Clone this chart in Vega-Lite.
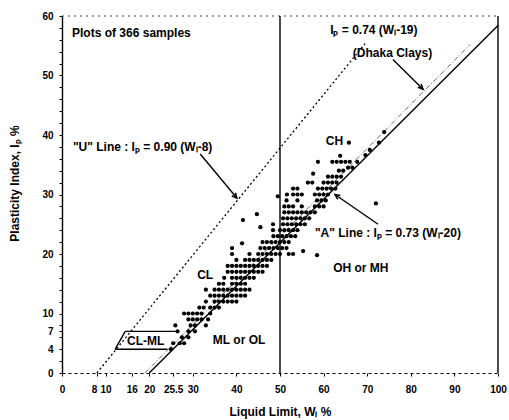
{
  "$schema": "https://vega.github.io/schema/vega-lite/v6.json",
  "width": 436,
  "height": 357,
  "autosize": {"type": "none"},
  "padding": {"left": 62, "top": 16, "right": 11, "bottom": 47},
  "background": "white",
  "config": {"view": {"stroke": null}, "font": "Liberation Sans"},
  "encoding": {
    "x": {"field": "wl", "type": "quantitative",
      "scale": {"domain": [0, 100], "nice": false, "zero": false},
      "axis": {
        "title": "Liquid Limit, Wₗ %",
        "values": [0, 8, 10, 16, 20, 25.5, 30, 40, 50, 60, 70, 80, 90, 100],
        "labelExpr": "'' + datum.value",
        "labelAlign": {"condition": {"test": "datum.value == 8", "value": "right"}, "value": "center"},
        "grid": false, "labelOverlap": false, "labelFlush": false,
        "domainColor": "black", "domainDash": [3, 3], "domainWidth": 1.2,
        "tickColor": "black", "tickSize": 3,
        "labelFont": "Liberation Sans", "labelFontWeight": "bold", "labelFontSize": 10, "labelColor": "black", "labelPadding": 8,
        "titleFont": "Liberation Sans", "titleFontWeight": "bold", "titleFontSize": 12, "titleColor": "black",
        "titleY": 42, "titleBaseline": "alphabetic"
      }},
    "y": {"field": "ip", "type": "quantitative",
      "scale": {"domain": [0, 60], "nice": false, "zero": false},
      "axis": {
        "title": "Plasticity Index, Iₚ %",
        "values": [0, 2, 4, 6, 7, 8, 10, 12, 14, 16, 18, 20, 22, 24, 26, 28, 30, 32, 34, 36, 38, 40, 42, 44, 46, 48, 50, 52, 54, 56, 58, 60],
        "labelExpr": "indexof([0,4,7,10,20,30,40,50,60], datum.value) >= 0 ? datum.label : ''",
        "grid": false, "labelOverlap": false, "labelFlush": false,
        "domainColor": "black", "domainWidth": 1.4,
        "tickColor": "black", "tickSize": 3,
        "labelFont": "Liberation Sans", "labelFontWeight": "bold", "labelFontSize": 10, "labelColor": "black", "labelPadding": 6,
        "titleFont": "Liberation Sans", "titleFontWeight": "bold", "titleFontSize": 12, "titleColor": "black",
        "titleX": -41, "titleY": 167
      }}
  },
  "layer": [
    {
      "data": {"values": [
        {"wl": 20, "ip": 0, "wl2": 100, "ip2": 58.4},
        {"wl": 50, "ip": 0, "wl2": 50, "ip2": 60},
        {"wl": 100, "ip": 0, "wl2": 100, "ip2": 60},
        {"wl": 12.2, "ip": 4, "wl2": 14.5, "ip2": 7},
        {"wl": 14.5, "ip": 7, "wl2": 26.5, "ip2": 7},
        {"wl": 12.2, "ip": 4, "wl2": 24.2, "ip2": 4}
      ]},
      "mark": {"type": "rule", "color": "black", "strokeWidth": 1.4},
      "encoding": {"x2": {"field": "wl2"}, "y2": {"field": "ip2"}}
    },
    {
      "data": {"values": [
        {"wl": 8, "ip": 0, "wl2": 69.5, "ip2": 55.35}
      ]},
      "mark": {"type": "rule", "color": "black", "strokeWidth": 1.3, "strokeDash": [2, 2.5]},
      "encoding": {"x2": {"field": "wl2"}, "y2": {"field": "ip2"}}
    },
    {
      "data": {"values": [
        {"wl": 0, "ip": 60, "wl2": 100, "ip2": 60}
      ]},
      "mark": {"type": "rule", "color": "#444", "strokeWidth": 1, "strokeDash": [2, 4]},
      "encoding": {"x2": {"field": "wl2"}, "y2": {"field": "ip2"}}
    },
    {
      "data": {"values": [
        {"wl": 19, "ip": 0, "wl2": 93.6, "ip2": 55.2}
      ]},
      "mark": {"type": "rule", "color": "#555", "strokeWidth": 0.9, "strokeDash": [5, 2, 1, 2]},
      "encoding": {"x2": {"field": "wl2"}, "y2": {"field": "ip2"}}
    },
    {
      "data": {"values": [
        {"wl": 25, "ip": 4},
        {"wl": 25.5, "ip": 5}, {"wl": 27, "ip": 5}, {"wl": 28, "ip": 5},
        {"wl": 27.5, "ip": 6}, {"wl": 29, "ip": 6},
        {"wl": 26.5, "ip": 7}, {"wl": 29, "ip": 7}, {"wl": 30.5, "ip": 7},
        {"wl": 26, "ip": 8}, {"wl": 29.5, "ip": 8}, {"wl": 30.5, "ip": 8}, {"wl": 33, "ip": 8},
        {"wl": 29, "ip": 9}, {"wl": 30, "ip": 9}, {"wl": 31, "ip": 9}, {"wl": 32, "ip": 9}, {"wl": 33.5, "ip": 9},
        {"wl": 28, "ip": 10}, {"wl": 29, "ip": 10}, {"wl": 30, "ip": 10}, {"wl": 31, "ip": 10}, {"wl": 32, "ip": 10}, {"wl": 34, "ip": 10},
        {"wl": 31.5, "ip": 11}, {"wl": 32.5, "ip": 11}, {"wl": 34, "ip": 11}, {"wl": 35, "ip": 11}, {"wl": 36, "ip": 11},
        {"wl": 33, "ip": 12}, {"wl": 35, "ip": 12}, {"wl": 36, "ip": 12}, {"wl": 37, "ip": 12}, {"wl": 38, "ip": 12}, {"wl": 39, "ip": 12}, {"wl": 40, "ip": 12},
        {"wl": 34, "ip": 13}, {"wl": 35, "ip": 13}, {"wl": 36, "ip": 13}, {"wl": 37, "ip": 13}, {"wl": 38, "ip": 13}, {"wl": 39, "ip": 13}, {"wl": 40, "ip": 13}, {"wl": 41, "ip": 13}, {"wl": 42, "ip": 13},
        {"wl": 33, "ip": 14}, {"wl": 35, "ip": 14}, {"wl": 36, "ip": 14}, {"wl": 37, "ip": 14}, {"wl": 38, "ip": 14}, {"wl": 39, "ip": 14}, {"wl": 40, "ip": 14}, {"wl": 41, "ip": 14}, {"wl": 42, "ip": 14}, {"wl": 43, "ip": 14},
        {"wl": 36, "ip": 15}, {"wl": 37, "ip": 15}, {"wl": 39, "ip": 15}, {"wl": 40, "ip": 15}, {"wl": 41, "ip": 15}, {"wl": 42, "ip": 15},
        {"wl": 37.2, "ip": 16}, {"wl": 39, "ip": 16}, {"wl": 40, "ip": 16}, {"wl": 41, "ip": 16}, {"wl": 42, "ip": 16}, {"wl": 43, "ip": 16}, {"wl": 44, "ip": 16},
        {"wl": 38, "ip": 17}, {"wl": 39, "ip": 17}, {"wl": 40, "ip": 17}, {"wl": 41, "ip": 17}, {"wl": 42, "ip": 17}, {"wl": 43, "ip": 17}, {"wl": 44, "ip": 17}, {"wl": 45, "ip": 17}, {"wl": 46, "ip": 17},
        {"wl": 38, "ip": 18}, {"wl": 39, "ip": 18}, {"wl": 40, "ip": 18}, {"wl": 41, "ip": 18}, {"wl": 42, "ip": 18}, {"wl": 43, "ip": 18}, {"wl": 44, "ip": 18}, {"wl": 45, "ip": 18}, {"wl": 46, "ip": 18}, {"wl": 47, "ip": 18},
        {"wl": 40, "ip": 19}, {"wl": 42, "ip": 19}, {"wl": 43, "ip": 19}, {"wl": 44, "ip": 19}, {"wl": 45, "ip": 19}, {"wl": 46, "ip": 19}, {"wl": 47, "ip": 19}, {"wl": 48, "ip": 19},
        {"wl": 39, "ip": 20}, {"wl": 43, "ip": 20}, {"wl": 45, "ip": 20}, {"wl": 46, "ip": 20}, {"wl": 47, "ip": 20}, {"wl": 48, "ip": 20}, {"wl": 49, "ip": 20}, {"wl": 50, "ip": 20}, {"wl": 52, "ip": 20}, {"wl": 53, "ip": 20}, {"wl": 55.3, "ip": 20.5}, {"wl": 58.5, "ip": 19.8},
        {"wl": 39, "ip": 21}, {"wl": 41.3, "ip": 21.8}, {"wl": 45.5, "ip": 21}, {"wl": 46.5, "ip": 21}, {"wl": 47.5, "ip": 21}, {"wl": 48.5, "ip": 21}, {"wl": 49.5, "ip": 21}, {"wl": 50.5, "ip": 21}, {"wl": 51.5, "ip": 21},
        {"wl": 46, "ip": 22}, {"wl": 47, "ip": 22}, {"wl": 48, "ip": 22}, {"wl": 49, "ip": 22}, {"wl": 50, "ip": 22}, {"wl": 51, "ip": 22}, {"wl": 52, "ip": 22},
        {"wl": 48.5, "ip": 23}, {"wl": 49.5, "ip": 23}, {"wl": 50.5, "ip": 23}, {"wl": 51.5, "ip": 23}, {"wl": 52.5, "ip": 23}, {"wl": 53.5, "ip": 23},
        {"wl": 45.5, "ip": 24.5}, {"wl": 48.4, "ip": 24}, {"wl": 50, "ip": 24}, {"wl": 51, "ip": 24}, {"wl": 52, "ip": 24}, {"wl": 53, "ip": 24}, {"wl": 54, "ip": 24},
        {"wl": 41.5, "ip": 25.7}, {"wl": 48.4, "ip": 25}, {"wl": 50.7, "ip": 25}, {"wl": 51.7, "ip": 25}, {"wl": 52.7, "ip": 25}, {"wl": 53.7, "ip": 25}, {"wl": 54.7, "ip": 25}, {"wl": 55.7, "ip": 25},
        {"wl": 44.7, "ip": 26.7}, {"wl": 50.7, "ip": 26}, {"wl": 51.7, "ip": 26}, {"wl": 52.7, "ip": 26}, {"wl": 53.7, "ip": 26}, {"wl": 54.7, "ip": 26}, {"wl": 55.7, "ip": 26}, {"wl": 56.7, "ip": 26},
        {"wl": 51, "ip": 27}, {"wl": 52, "ip": 27}, {"wl": 53, "ip": 27}, {"wl": 54, "ip": 27}, {"wl": 55, "ip": 27}, {"wl": 56, "ip": 27}, {"wl": 57, "ip": 27}, {"wl": 58, "ip": 27},
        {"wl": 51, "ip": 28}, {"wl": 52, "ip": 28}, {"wl": 53, "ip": 28}, {"wl": 55, "ip": 28}, {"wl": 58, "ip": 28}, {"wl": 59, "ip": 28}, {"wl": 60, "ip": 28},
        {"wl": 51.5, "ip": 29}, {"wl": 54, "ip": 29}, {"wl": 58.5, "ip": 29}, {"wl": 59.5, "ip": 29}, {"wl": 60.5, "ip": 29}, {"wl": 72, "ip": 28.5},
        {"wl": 49.5, "ip": 29.7}, {"wl": 51.6, "ip": 30}, {"wl": 53, "ip": 30}, {"wl": 54, "ip": 30}, {"wl": 55, "ip": 30}, {"wl": 58, "ip": 30}, {"wl": 59, "ip": 30}, {"wl": 60, "ip": 30}, {"wl": 61, "ip": 30},
        {"wl": 53, "ip": 31}, {"wl": 54, "ip": 31}, {"wl": 58.7, "ip": 31}, {"wl": 59.7, "ip": 31}, {"wl": 60.7, "ip": 31}, {"wl": 61.7, "ip": 31}, {"wl": 62.7, "ip": 31},
        {"wl": 56.4, "ip": 32}, {"wl": 57.4, "ip": 32}, {"wl": 60, "ip": 32}, {"wl": 61, "ip": 32}, {"wl": 62, "ip": 32}, {"wl": 63, "ip": 32},
        {"wl": 57.6, "ip": 33.5}, {"wl": 61, "ip": 33}, {"wl": 62, "ip": 33}, {"wl": 63, "ip": 33}, {"wl": 64, "ip": 33},
        {"wl": 63.5, "ip": 34}, {"wl": 64.5, "ip": 34}, {"wl": 65.6, "ip": 34.5}, {"wl": 66.6, "ip": 34.5},
        {"wl": 58.7, "ip": 35.5}, {"wl": 62, "ip": 35.5}, {"wl": 63, "ip": 35.5}, {"wl": 64, "ip": 35.5}, {"wl": 65, "ip": 35.5}, {"wl": 66, "ip": 35.5}, {"wl": 67.7, "ip": 35.5},
        {"wl": 63.8, "ip": 36.5}, {"wl": 69.6, "ip": 36.6},
        {"wl": 70.6, "ip": 37.5},
        {"wl": 72.7, "ip": 38.7},
        {"wl": 65.8, "ip": 38.7},
        {"wl": 73.9, "ip": 40.5}
      ]},
      "mark": {"type": "circle", "size": 18, "color": "black", "opacity": 1}
    },
    {
      "data": {"values": [
        {"wl": 31.7, "ip": 36.8, "wl2": 40.1, "ip2": 29.4},
        {"wl": 75.9, "ip": 52.7, "wl2": 82.8, "ip2": 47.7},
        {"wl": 72.5, "ip": 25, "wl2": 62.6, "ip2": 30}
      ]},
      "mark": {"type": "rule", "color": "black", "strokeWidth": 1.4},
      "encoding": {"x2": {"field": "wl2"}, "y2": {"field": "ip2"}}
    },
    {
      "data": {"values": [{"wl": 40.1, "ip": 29.4}]},
      "mark": {"type": "point", "shape": "M-0.6,1.3L0,0L0.6,1.3", "filled": false, "stroke": "black", "strokeWidth": 1.5, "size": 60, "angle": 140, "opacity": 1}
    },
    {
      "data": {"values": [{"wl": 82.8, "ip": 47.7}]},
      "mark": {"type": "point", "shape": "M-0.6,1.3L0,0L0.6,1.3", "filled": false, "stroke": "black", "strokeWidth": 1.5, "size": 60, "angle": 135, "opacity": 1}
    },
    {
      "data": {"values": [{"wl": 62.6, "ip": 30}]},
      "mark": {"type": "point", "shape": "M-0.6,1.3L0,0L0.6,1.3", "filled": false, "stroke": "black", "strokeWidth": 1.5, "size": 60, "angle": 305, "opacity": 1}
    },
    {
      "data": {"values": [
        {"wl": 2.3, "ip": 57.1, "label": "Plots of 366 samples"},
        {"wl": 2.5, "ip": 38, "label": "\"U\" Line : Iₚ = 0.90 (Wₗ-8)"},
        {"wl": 61.5, "ip": 57.6, "label": "Iₚ = 0.74 (Wₗ-19)"},
        {"wl": 66.7, "ip": 53.8, "label": "(Dhaka Clays)"},
        {"wl": 58, "ip": 23.5, "label": "\"A\" Line : Iₚ = 0.73 (Wₗ-20)"},
        {"wl": 60.5, "ip": 39, "label": "CH"},
        {"wl": 31, "ip": 16.5, "label": "CL"},
        {"wl": 34.6, "ip": 5.5, "label": "ML or OL"},
        {"wl": 62.2, "ip": 17.6, "label": "OH or MH"},
        {"wl": 14.9, "ip": 5.3, "label": "CL-ML"}
      ]},
      "mark": {"type": "text", "align": "left", "baseline": "middle", "font": "Liberation Sans", "fontWeight": "bold", "fontSize": 12, "color": "black"},
      "encoding": {"text": {"field": "label"}}
    }
  ]
}
